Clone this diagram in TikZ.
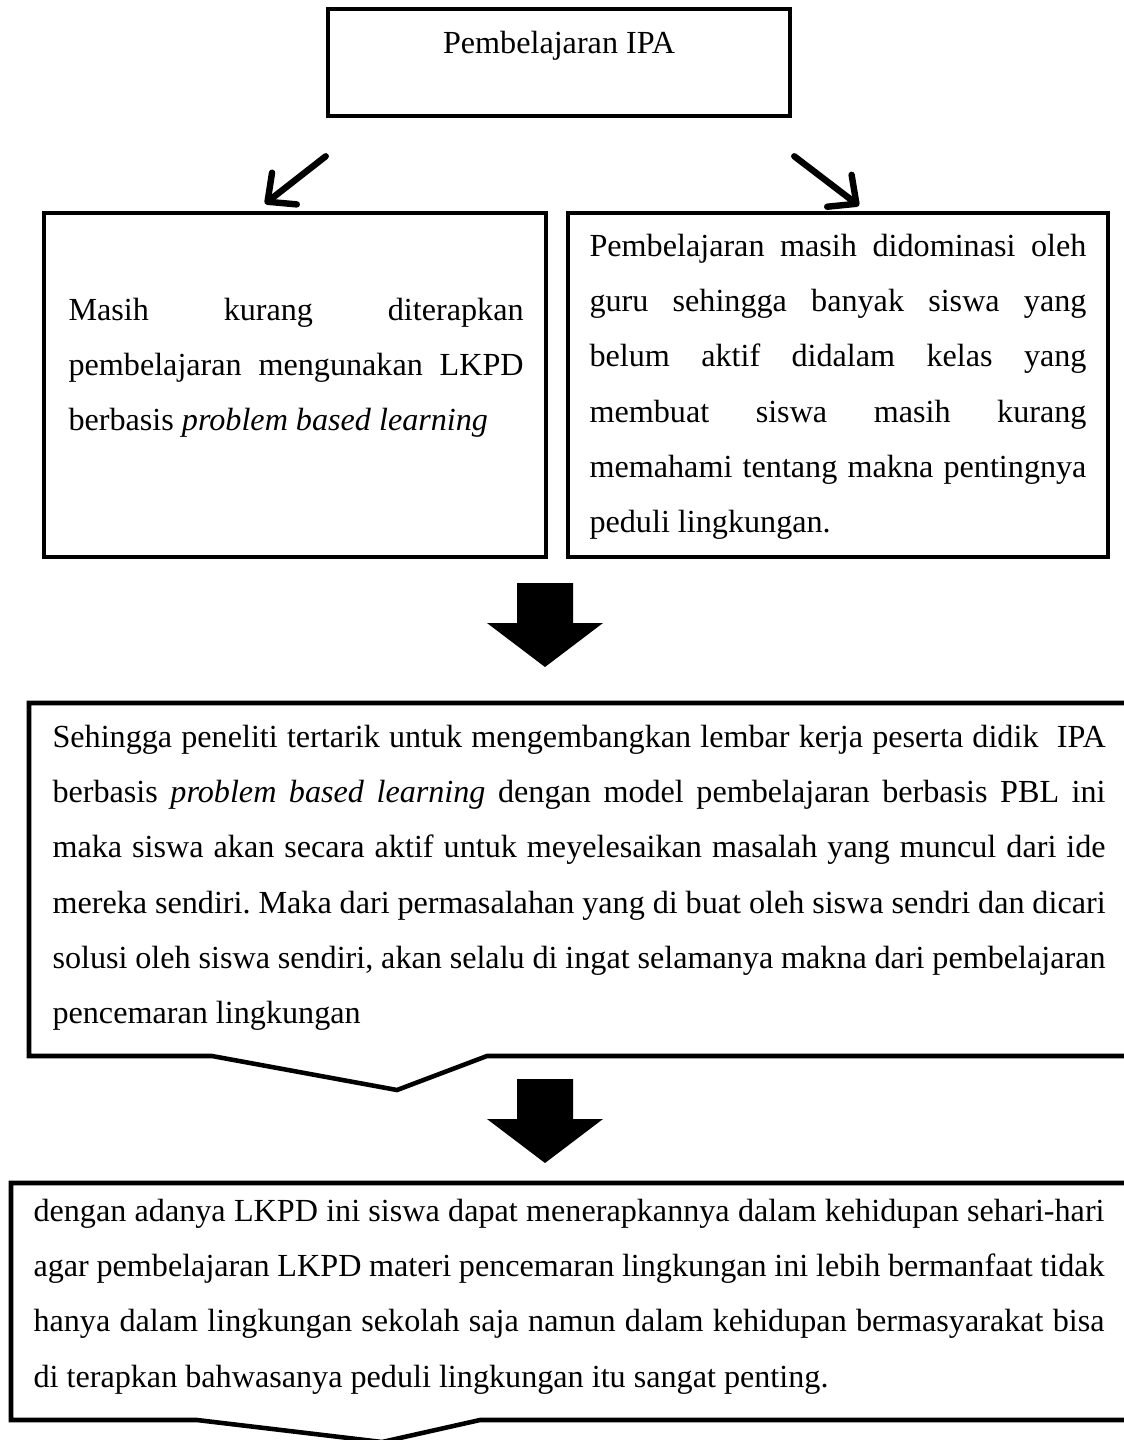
\documentclass[tikz,border=0pt]{standalone}
\usepackage{fontspec}
\setmainfont{Liberation Serif}
\usepackage{tikz}
\usetikzlibrary{fit}
\usetikzlibrary{calc}
\usetikzlibrary{positioning}
\usetikzlibrary{arrows.meta}
\frenchspacing
\newcommand{\wordsp}{\spaceskip=0.25em\relax}
\newcommand{\jline}[1]{\makebox[\linewidth][s]{\spaceskip=0.25em plus 1fil minus 0.1em\relax #1}}
\newcommand{\blockarrow}[1]{\fill #1 ++(-28,0) -- ++(56,0) -- ++(0,40) -- ++(30,0) -- ++(-58,44) -- ++(-58,-44) -- ++(30,0) -- cycle;}
\tikzset{
  box/.style={draw, line width=1.7pt, inner sep=0pt},
  txt/.style={inner sep=0pt, anchor=base west, font=\fontsize{12}{20.66}\selectfont},
  thinarrow/.style={line width=2.4pt, line cap=round, -{Straight Barb[round,length=8pt,width=15pt]}},
}

\begin{document}
\begin{tikzpicture}[x=0.3731pt, y=-0.3731pt]

  \useasboundingbox (0,0) rectangle (1124,1440);
  \clip (0,0) rectangle (1124,1440);
  \fill[white] (0,0) rectangle (1124,1440);

  % top box
  \node (ipa) [box, fit={(328,9) (790,116)}] {};
  \node (ipatext) [txt, anchor=base] at (559,53) {Pembelajaran IPA};

  % two problem boxes
  \node (lkpd) [box, fit={(44,213) (546,557)}] {};
  \node (guru) [box, fit={(568,213) (1108,557)}] {};
  \node (lkpdtext) [txt, text width=169.8pt] at (68,320) {\wordsp
    \jline{Masih kurang diterapkan}\\
    \jline{pembelajaran mengunakan LKPD}\\
    berbasis \textit{problem based learning}};
  \node (gurutext) [txt, text width=185.4pt] at (589,256) {\wordsp
    \jline{Pembelajaran masih didominasi oleh}\\
    \jline{guru sehingga banyak siswa yang}\\
    \jline{belum aktif didalam kelas yang}\\
    \jline{membuat siswa masih kurang}\\
    \jline{memahami tentang makna pentingnya}\\
    peduli lingkungan.};

  \draw[thinarrow] ($(ipa.south west)+(0,38)$) -- ($(lkpd.north)+(-30,-7)$);
  \draw[thinarrow] ($(ipa.south east)+(2,38)$) -- ($(guru.north)+(21,-5)$);

  \blockarrow{(545,583)}

  % solution box
  \draw[box] (29,703) -- (1140,703) -- (1140,1056) -- (487,1056)
    -- (397,1090) coordinate (tip3) -- (212,1056) -- (29,1056) -- cycle;
  \node (pbltext) [txt, text width=392.9pt] at (52,747) {\wordsp
    \jline{Sehingga peneliti tertarik untuk mengembangkan lembar kerja peserta didik\ \ IPA}\\
    \jline{berbasis \textit{problem based learning} dengan model pembelajaran berbasis PBL ini}\\
    \jline{maka siswa akan secara aktif untuk meyelesaikan masalah yang muncul dari ide}\\
    \jline{mereka sendiri. Maka dari permasalahan yang di buat oleh siswa sendri dan dicari}\\
    \jline{solusi oleh siswa sendiri, akan selalu di ingat selamanya makna dari pembelajaran}\\
    pencemaran lingkungan};

  \blockarrow{(545,1079)}

  % result box
  \draw[box] (11,1183) -- (1140,1183) -- (1140,1420) -- (480,1420)
    -- (382,1442) coordinate (tip4) -- (197,1420) -- (11,1420) -- cycle;
  \node (hasiltext) [txt, text width=399.6pt] at (33,1221) {\wordsp
    \jline{dengan adanya LKPD ini siswa dapat menerapkannya dalam kehidupan sehari-hari}\\
    \jline{agar pembelajaran LKPD materi pencemaran lingkungan ini lebih bermanfaat tidak}\\
    \jline{hanya dalam lingkungan sekolah saja namun dalam kehidupan bermasyarakat bisa}\\
    di terapkan bahwasanya peduli lingkungan itu sangat penting.};

\end{tikzpicture}
\end{document}
